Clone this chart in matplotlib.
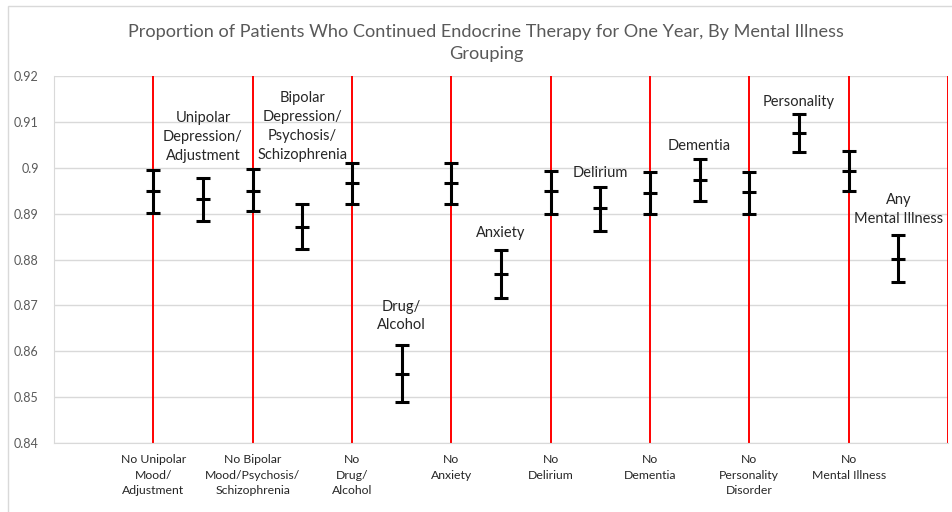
import matplotlib
matplotlib.use("Agg")
import matplotlib.pyplot as plt
from matplotlib.patches import Rectangle

plt.rcParams['font.family'] = ['Lato', 'DejaVu Sans']

# ---- data ----
groups = ["No Unipolar", "Unipolar", "No Bipolar", "Bipolar", "No Drug", "Drug",
          "No Anxiety", "Anxiety", "No Delirium", "Delirium", "No Dementia", "Dementia",
          "No Personality", "Personality", "No Mental Illness", "Any Mental Illness"]
estimate = [0.8949, 0.8931, 0.8950, 0.8871, 0.8966, 0.8551, 0.8966, 0.8768,
            0.8948, 0.8911, 0.8945, 0.8973, 0.8946, 0.9075, 0.8993, 0.8801]
upper = [0.8995, 0.8978, 0.8996, 0.8920, 0.9011, 0.8613, 0.9011, 0.8821,
         0.8993, 0.8958, 0.8991, 0.9018, 0.8991, 0.9116, 0.9037, 0.8853]
lower = [0.8902, 0.8884, 0.8905, 0.8822, 0.8920, 0.8489, 0.8920, 0.8716,
         0.8900, 0.8863, 0.8899, 0.8928, 0.8900, 0.9035, 0.8949, 0.8750]

illness_labels = ["Unipolar\nDepression/\nAdjustment",
                  "Bipolar\nDepression/\nPsychosis/\nSchizophrenia",
                  "Drug/\nAlcohol", "Anxiety", "Delirium", "Dementia",
                  "Personality", "Any\nMental Illness"]
no_labels = ["No Unipolar\nMood/\nAdjustment", "No Bipolar\nMood/Psychosis/\nSchizophrenia",
             "No\nDrug/\nAlcohol", "No\nAnxiety", "No\nDelirium", "No\nDementia",
             "No\nPersonality\nDisorder", "No\nMental Illness"]
yticks = [0.84, 0.85, 0.86, 0.87, 0.88, 0.89, 0.90, 0.91, 0.92]
ytick_labels = ["0.84", "0.85", "0.86", "0.87", "0.88", "0.89", "0.9", "0.91", "0.92"]
title = "Proportion of Patients Who Continued Endocrine Therapy for One Year, By Mental Illness\nGrouping"

# label gaps above upper whisker (points)
label_gap = [13, 32.5, 11.5, 9.5, 7, 6.5, 6, 8.5]

W, H = 953, 512
fig = plt.figure(figsize=(W / 100, H / 100), dpi=100)
fig.patches.append(Rectangle((8 / W, -0.01), 1.2, 1 - 6 / H + 0.01, transform=fig.transFigure,
                             fill=False, edgecolor='#d9d9d9', linewidth=1))
ax = fig.add_axes([54 / W, 1 - 443.3 / H, (948 - 54) / W, (443.3 - 75.7) / H])

xs = list(range(2, 2 + len(groups)))
ax.set_xlim(0, 18)
ax.set_ylim(0.84, 0.92)

for yv in yticks:
    ax.axhline(yv, color='#d9d9d9', linewidth=1, zorder=0)
for xv in range(2, 19, 2):
    ax.axvline(xv, color='#ff0000', linewidth=1.4, zorder=1)

err_lo = [e - l for e, l in zip(estimate, lower)]
err_hi = [u - e for e, u in zip(estimate, upper)]
ax.errorbar(xs, estimate, yerr=[err_lo, err_hi], fmt='_', color='black',
            ecolor='black', elinewidth=2.2, capsize=4.8, capthick=2.2,
            markersize=9.6, markeredgewidth=2.2, zorder=3)

for i, lab in enumerate(illness_labels):
    idx = 2 * i + 1
    ax.annotate(lab, xy=(xs[idx], upper[idx]), xytext=(0, label_gap[i]),
                textcoords='offset points', ha='center', va='baseline',
                fontsize=10.5, color='#262626', linespacing=1.45)

ax.set_yticks(yticks)
ax.set_yticklabels(ytick_labels)
ax.set_xticks(list(range(2, 17, 2)))
ax.set_xticklabels(no_labels, fontsize=8.8, color='#262626', linespacing=1.5)
ax.tick_params(axis='x', length=0, pad=8)
ax.tick_params(axis='y', length=0, pad=11, labelsize=9, labelcolor='#595959')

for s in ['top', 'right']:
    ax.spines[s].set_visible(False)
ax.spines['left'].set_color('#d9d9d9')
ax.spines['bottom'].set_color('#d9d9d9')

fig.text(486 / W, 1 - 43 / H, title, ha='center', va='center', fontsize=13.1,
         color='#595959', linespacing=1.45)

fig.savefig("out.png", dpi=100)
